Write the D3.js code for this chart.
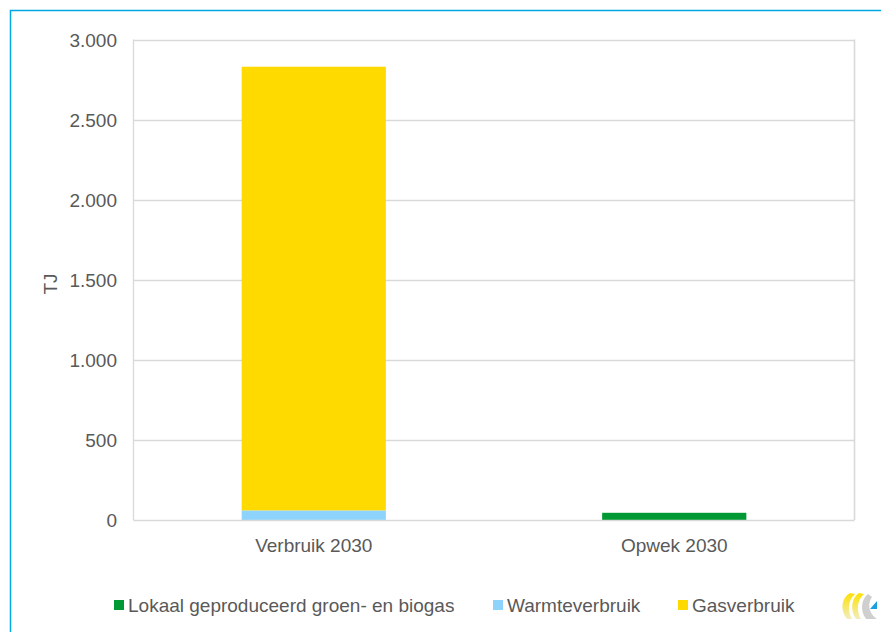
<!DOCTYPE html>
<html><head><meta charset="utf-8">
<script src="https://cdn.jsdelivr.net/npm/d3@7"></script>
<style>body{margin:0;background:#fff}svg{display:block;font-family:"Liberation Sans",Arial,sans-serif}</style>
</head><body>
<script>
const categories = ["Verbruik 2030", "Opwek 2030"];
const seriesNames = ["Lokaal geproduceerd groen- en biogas", "Warmteverbruik", "Gasverbruik"];
const groenBiogas = [0, 45];
const warmte = [60, 0];
const gas = [2770, 0];
const yTicks = [0, 500, 1000, 1500, 2000, 2500, 3000];
const colors = ["#009933", "#8dd3fb", "#ffda00"];

const W = 881, H = 632;
const svg = d3.select("body").append("svg").attr("width", W).attr("height", H);
svg.append("rect").attr("width", W).attr("height", H).attr("fill", "#fff");
// blue frame
svg.append("path").attr("d", "M10.5,640 V10.5 H890").attr("fill", "none").attr("stroke", "#00a7e1").attr("stroke-width", 1.5);

const L = 133.5, R = 854.5, T = 39.5, B = 520;
const x = d3.scaleBand().domain(categories).range([L, R]).padding(0);
const y = d3.scaleLinear().domain([0, 3000]).range([B, T]);

const g = svg.append("g");
// gridlines
g.selectAll("line.grid").data(yTicks.filter(d => d > 0)).join("line")
  .attr("x1", L).attr("x2", R).attr("y1", d => Math.round(y(d)) + 0.5).attr("y2", d => Math.round(y(d)) + 0.5)
  .attr("stroke", "#d9d9d9").attr("stroke-width", 1.3);
// frame sides
g.append("line").attr("x1", L).attr("x2", L).attr("y1", T).attr("y2", B).attr("stroke", "#d9d9d9").attr("stroke-width", 1.3);
g.append("line").attr("x1", R).attr("x2", R).attr("y1", T).attr("y2", B).attr("stroke", "#d9d9d9").attr("stroke-width", 1.6);

// stacks
const data = categories.map((c, i) => ({cat: c, s0: groenBiogas[i], s1: warmte[i], s2: gas[i]}));
const stack = d3.stack().keys(["s0", "s1", "s2"]);
const layers = stack(data);
const bw = x.bandwidth() * 0.4;
layers.forEach((layer, li) => {
  g.selectAll(null).data(layer).join("rect")
    .attr("x", d => x(d.data.cat) + x.bandwidth() / 2 - bw / 2)
    .attr("width", bw)
    .attr("y", d => y(d[1]))
    .attr("height", d => Math.max(0, y(d[0]) - y(d[1])))
    .attr("fill", colors[li]);
});

// bottom axis line
g.append("line").attr("x1", L).attr("x2", R).attr("y1", B + 0.5).attr("y2", B + 0.5).attr("stroke", "#d9d9d9").attr("stroke-width", 1.3);

// y axis labels
const fmt = d => d3.format(",")(d).replace(/,/g, ".");
g.selectAll("text.yt").data(yTicks).join("text")
  .attr("x", 117).attr("y", d => y(d) + 7).attr("text-anchor", "end")
  .attr("font-size", 19).attr("fill", "#595959").text(fmt);

// x labels
g.selectAll("text.xt").data(categories).join("text")
  .attr("x", d => x(d) + x.bandwidth() / 2).attr("y", 552).attr("text-anchor", "middle")
  .attr("font-size", 19).attr("fill", "#595959").text(d => d);

// y title
svg.append("text").attr("transform", "translate(57,284) rotate(-90)").attr("text-anchor", "middle")
  .attr("font-size", 19).attr("fill", "#595959").text("TJ");

// legend
const legX = [114, 493, 678];
seriesNames.forEach((n, i) => {
  svg.append("rect").attr("x", legX[i]).attr("y", 600).attr("width", 10).attr("height", 10).attr("fill", colors[i]);
  svg.append("text").attr("x", legX[i] + 14).attr("y", 612).attr("font-size", 19).attr("fill", "#595959").text(n);
});

// logo
const defs = svg.append("defs");
const gr = defs.append("linearGradient").attr("id", "lg").attr("x1", 0).attr("y1", 0).attr("x2", 0).attr("y2", 1);
gr.append("stop").attr("offset", 0).attr("stop-color", "#ffe000");
gr.append("stop").attr("offset", 1).attr("stop-color", "#f0eec0");
const logo = svg.append("g").attr("transform", "translate(840,593)");
logo.append("path").attr("d", "M10,0 C1,5 0,18 7,26 L12,26 C7,18 8,7 15,1 Z").attr("fill", "url(#lg)");
logo.append("path").attr("d", "M19,0 C11,5 10,18 16,26 L21,26 C16,18 17,7 24,1 Z").attr("fill", "url(#lg)");
logo.append("path").attr("d", "M28,1 C21,6 20,18 26,26 L37,26 C31,22 26,13 32,4 Z").attr("fill", "#cfcfcf");
logo.append("path").attr("d", "M30,16 L37,8 L37,16 Z").attr("fill", "#1aa0e0");
</script>
</body></html>
